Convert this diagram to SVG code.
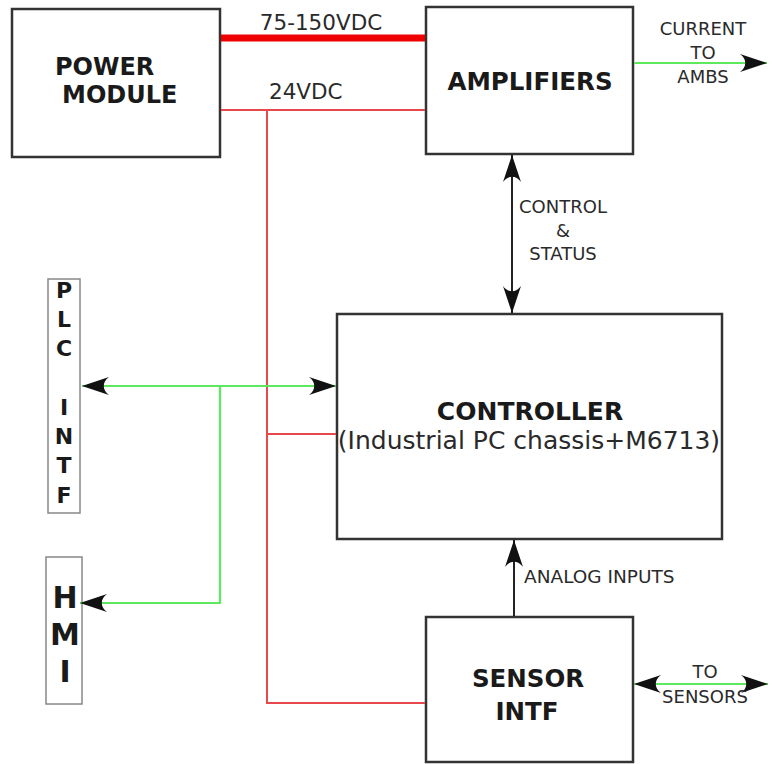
<svg xmlns="http://www.w3.org/2000/svg" width="769" height="764" viewBox="0 0 769 764">
<defs>
<style>
.box{fill:#fff;stroke:#333;stroke-width:2.5}
.sbox{fill:#fff;stroke:#888;stroke-width:1.5}
.bt{font-family:"DejaVu Sans","Liberation Sans",sans-serif;font-weight:bold;fill:#1a1a1a}
.lt{font-family:"DejaVu Sans","Liberation Sans",sans-serif;fill:#2a2a2a}
.red{stroke:#e8484c;stroke-width:2;fill:none}
.grn{stroke:#5ee85e;stroke-width:2.2;fill:none}
.blk{stroke:#222;stroke-width:2;fill:none}
</style>
<marker id="ah" viewBox="-28 -10 29 20" refX="0" refY="0" markerWidth="29" markerHeight="20" markerUnits="userSpaceOnUse" orient="auto-start-reverse">
<path d="M0,0 L-27,-9 C-20,-4 -20,4 -27,9 Z" fill="#111"/>
</marker>
</defs>

<g id="power-module">
<rect class="box" x="12" y="9" width="208" height="148"/>
<text class="bt" x="55" y="75" font-size="24">POWER</text>
<text class="bt" x="62" y="103" font-size="24">MODULE</text>
</g>

<g id="amplifiers">
<rect class="box" x="426" y="7" width="207" height="147"/>
<text class="bt" x="530" y="90" font-size="24.5" text-anchor="middle">AMPLIFIERS</text>
</g>

<g id="plc-intf">
<rect class="sbox" x="48" y="279" width="32" height="234"/>
<g class="bt" font-size="22" text-anchor="middle">
<text x="64" y="298">P</text>
<text x="64" y="327">L</text>
<text x="64" y="356">C</text>
<text x="64" y="415">I</text>
<text x="64" y="444">N</text>
<text x="64" y="473">T</text>
<text x="64" y="503">F</text>
</g>
</g>

<g id="hmi">
<rect class="sbox" x="46" y="557" width="36" height="147"/>
<g class="bt" font-size="30" text-anchor="middle">
<text x="65" y="608">H</text>
<text x="65" y="645">M</text>
<text x="65" y="682">I</text>
</g>
</g>

<g id="controller">
<rect class="box" x="337" y="314" width="385" height="225"/>
<text class="bt" x="530" y="420" font-size="25" text-anchor="middle">CONTROLLER</text>
<text class="lt" x="529" y="449" font-size="25" text-anchor="middle">(Industrial PC chassis+M6713)</text>
</g>

<g id="sensor-intf">
<rect class="box" x="426" y="617" width="207" height="145"/>
<text class="bt" x="528" y="687" font-size="24.5" text-anchor="middle">SENSOR</text>
<text class="bt" x="527" y="720" font-size="24.5" text-anchor="middle">INTF</text>
</g>

<g id="connectors">
<line x1="221" y1="38" x2="425" y2="38" stroke="#ee0000" stroke-width="7"/>
<path class="red" d="M221,110 H425"/>
<path class="red" d="M267,110 V703 H425"/>
<path class="red" d="M267,434 H336"/>
<path class="grn" d="M634,63 H767" marker-end="url(#ah)"/>
<path class="grn" d="M82,386 H336" marker-start="url(#ah)" marker-end="url(#ah)"/>
<path class="grn" d="M220,386 V603 H80" marker-end="url(#ah)"/>
<path class="grn" d="M634,684 H768" stroke-width="3" marker-start="url(#ah)" marker-end="url(#ah)"/>
<path class="blk" d="M512,155 V313" marker-start="url(#ah)" marker-end="url(#ah)"/>
<path class="blk" d="M514,616 V540" marker-end="url(#ah)"/>
</g>

<g id="labels" class="lt">
<text x="321" y="30" font-size="21.5" text-anchor="middle">75-150VDC</text>
<text x="269" y="99" font-size="21.5">24VDC</text>
<text x="703" y="35" font-size="18" text-anchor="middle">CURRENT</text>
<text x="703" y="59" font-size="18" text-anchor="middle">TO</text>
<text x="703" y="83" font-size="18" text-anchor="middle">AMBS</text>
<text x="563" y="213" font-size="18" text-anchor="middle">CONTROL</text>
<text x="563" y="237" font-size="18" text-anchor="middle">&amp;</text>
<text x="563" y="260" font-size="18" text-anchor="middle">STATUS</text>
<text x="524" y="583" font-size="18.5">ANALOG INPUTS</text>
<text x="705" y="678" font-size="18" text-anchor="middle">TO</text>
<text x="705" y="703" font-size="18" text-anchor="middle">SENSORS</text>
</g>
</svg>
